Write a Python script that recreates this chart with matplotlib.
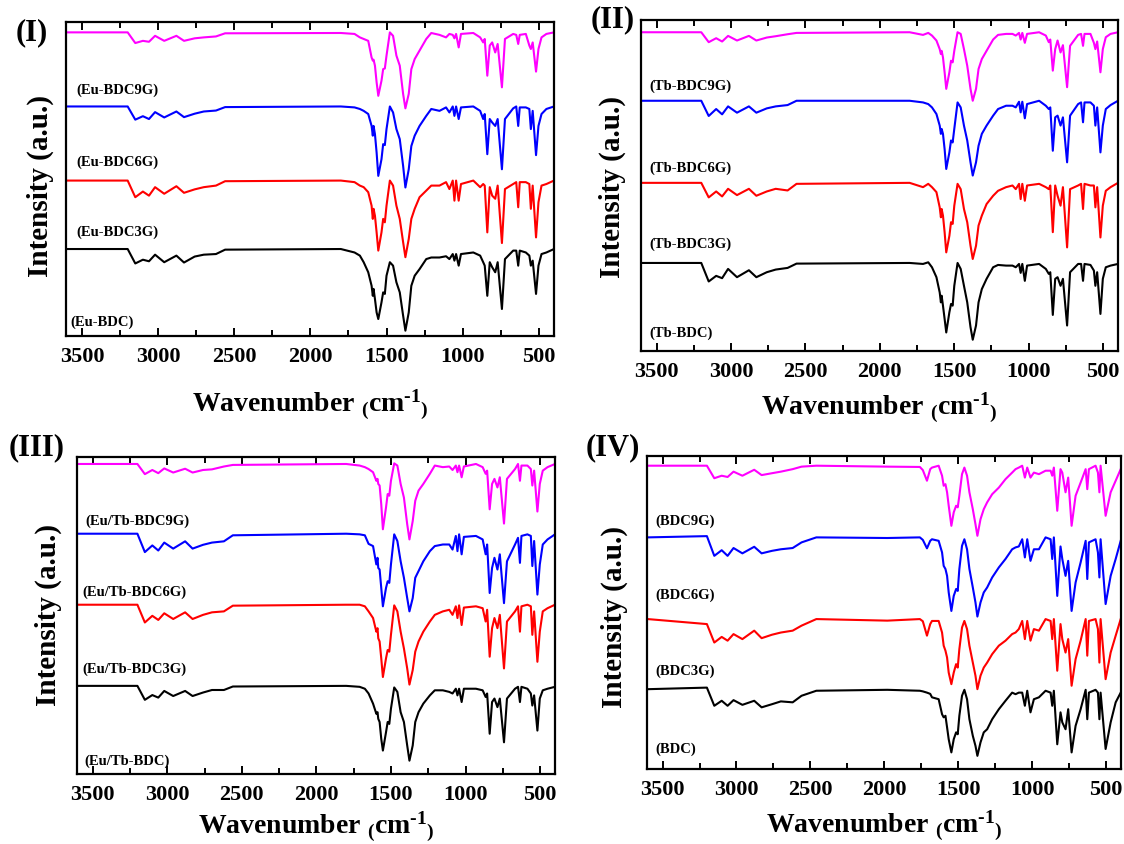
import matplotlib
matplotlib.use("Agg")
import matplotlib.pyplot as plt
from matplotlib.ticker import MultipleLocator

plt.rcParams['font.family'] = 'Liberation Serif'
plt.rcParams['font.weight'] = 'bold'
plt.rcParams['mathtext.fontset'] = 'custom'
plt.rcParams['mathtext.rm'] = 'Liberation Serif:bold'
plt.rcParams['mathtext.bf'] = 'Liberation Serif:bold'
plt.rcParams['mathtext.it'] = 'Liberation Serif:bold:italic'

# wavenumber points (cm-1) for the Eu, Tb and Eu/Tb spectra
wn_ln = [3600, 3200, 3150, 3100, 3060, 3020, 2960, 2880, 2830, 2760, 2700, 2620, 2560,
         1800, 1710, 1675, 1650, 1620, 1598, 1590, 1585, 1576, 1565,
         1554, 1533, 1522, 1511, 1500, 1478, 1457, 1435, 1413, 1391,
         1376, 1354, 1337, 1315, 1283, 1239, 1206, 1152, 1109, 1087,
         1065, 1054, 1043, 1026, 1011, 930, 885, 865, 855, 838,
         822, 806, 786, 770, 742, 722, 668, 648, 635, 625,
         585, 562, 552, 540, 518, 502, 482, 450, 400]

# wavenumber points (cm-1) for the free linker spectra
wn_bdc = [3600, 3200, 3150, 3100, 3060, 3020, 2960, 2880, 2830, 2760, 2700, 2620, 2560,
          2460, 1980, 1760, 1740,
          1712, 1690, 1678, 1633, 1610, 1599, 1587, 1576, 1565, 1547,
          1531, 1515, 1504, 1493, 1475, 1459, 1441, 1425, 1402, 1384,
          1371, 1350, 1328, 1305, 1271, 1226, 1181, 1136, 1113, 1091,
          1068, 1050, 1034, 1012, 989, 955, 910, 876, 865, 854,
          831, 809, 797, 775, 757, 734, 707, 673, 639, 628,
          617, 572, 556, 546, 538, 504, 470, 436, 402]

# (I) Eu series, stacked intensity (a.u.)
eu_bdc = [27.7, 27.7, 23.1, 24.3, 23.8, 25.9, 23.5, 25.6, 23.4, 25.3, 25.9, 26.1, 27.5,
          27.7, 26.6, 25.6, 23.5, 20.3, 16.0, 12.8, 15.0, 11.8, 7.5,
          5.4, 10.7, 13.9, 13.4, 19.2, 23.5, 22.4, 17.1, 13.9, 6.5,
          1.7, 7.5, 16.0, 19.2, 21.3, 24.5, 25.0, 25.0, 25.4, 24.5,
          26.1, 24.0, 26.1, 22.4, 26.1, 26.6, 25.6, 23.5, 22.4, 12.8,
          23.5, 21.9, 20.3, 23.5, 8.6, 24.5, 27.2, 27.2, 22.4, 27.2,
          26.6, 25.6, 22.4, 24.0, 13.4, 22.4, 26.1, 26.6, 27.7]
eu_bdc3g = [49.5, 49.5, 44.2, 46.0, 44.7, 47.4, 45.3, 47.7, 45.6, 46.7, 47.4, 47.9, 49.3,
            49.5, 49.0, 47.9, 47.4, 45.8, 41.5, 37.3, 40.5, 38.3, 33.0,
            27.2, 33.0, 37.3, 36.2, 41.5, 49.5, 47.9, 41.5, 37.3, 29.9,
            25.1, 30.9, 37.3, 40.5, 44.2, 46.3, 47.9, 47.9, 49.0, 46.8,
            49.5, 43.1, 49.5, 43.1, 48.4, 49.5, 47.4, 48.4, 47.9, 33.0,
            47.4, 44.7, 43.7, 47.9, 29.6, 46.8, 48.4, 49.0, 41.0, 49.0,
            49.0, 48.4, 40.5, 47.9, 31.4, 42.6, 47.9, 48.4, 49.5]
eu_bdc6g = [73.1, 73.1, 68.9, 70.0, 69.1, 71.3, 69.6, 71.5, 69.7, 70.8, 71.5, 71.8, 72.9,
            73.1, 72.8, 72.3, 71.7, 70.7, 66.9, 63.8, 66.9, 64.3, 58.4,
            51.0, 56.3, 61.1, 60.8, 65.9, 73.1, 71.2, 65.9, 62.7, 54.2,
            47.3, 53.1, 60.5, 63.8, 66.9, 70.1, 72.3, 71.7, 72.8, 71.2,
            73.1, 70.1, 73.1, 69.1, 72.8, 73.1, 71.7, 69.1, 70.7, 57.9,
            69.1, 68.0, 66.9, 69.1, 53.1, 69.1, 72.5, 73.1, 66.9, 72.8,
            72.8, 72.3, 65.9, 71.7, 57.6, 66.9, 70.7, 72.3, 73.1]
eu_bdc9g = [96.7, 96.7, 93.3, 94.0, 93.7, 95.6, 94.0, 95.6, 94.0, 94.8, 95.1, 95.4, 96.4,
            96.5, 96.2, 95.1, 94.6, 94.0, 88.7, 87.7, 88.0, 86.1, 80.8,
            76.5, 81.3, 85.0, 85.2, 89.3, 96.7, 95.6, 89.3, 86.1, 77.1,
            72.5, 77.1, 85.0, 88.2, 90.9, 94.6, 96.5, 95.9, 95.1, 96.2,
            95.9, 94.8, 96.2, 91.9, 96.2, 96.5, 95.1, 93.5, 94.6, 82.9,
            92.5, 93.5, 90.3, 93.0, 79.2, 94.6, 96.2, 95.9, 93.0, 95.9,
            96.2, 92.5, 91.4, 93.5, 84.2, 91.4, 95.1, 96.2, 96.7]

# (II) Tb series
tb_bdc = [26.6, 26.6, 21.0, 22.7, 22.0, 24.8, 22.3, 24.4, 22.3, 23.8, 24.6, 25.1, 26.4,
          26.6, 26.3, 26.8, 25.3, 22.3, 17.7, 14.7, 16.7, 13.7, 9.7,
          5.6, 11.7, 14.2, 13.7, 19.7, 26.6, 24.8, 19.7, 14.7, 7.2,
          3.4, 7.7, 14.7, 18.7, 21.8, 25.3, 26.0, 25.8, 25.8, 25.3,
          26.3, 23.6, 26.3, 21.2, 25.8, 26.3, 24.8, 23.3, 23.8, 10.9,
          21.8, 22.3, 19.7, 21.8, 7.7, 23.8, 26.3, 26.3, 21.2, 26.3,
          26.0, 24.3, 19.7, 23.8, 11.2, 21.8, 25.3, 25.8, 26.3]
tb_bdc3g = [50.8, 50.8, 46.4, 48.2, 46.7, 49.0, 47.1, 49.0, 46.9, 48.2, 49.0, 48.5, 50.5,
            50.8, 49.5, 50.5, 49.5, 48.0, 43.4, 40.4, 42.9, 40.9, 35.9,
            29.8, 34.8, 38.9, 38.4, 43.9, 50.5, 48.9, 42.9, 38.9, 31.8,
            27.8, 31.8, 37.9, 40.9, 44.4, 46.9, 48.4, 49.5, 50.0, 48.9,
            50.5, 45.9, 50.5, 45.4, 50.0, 50.5, 49.5, 48.9, 50.0, 35.9,
            50.0, 46.9, 43.9, 49.5, 31.3, 48.9, 50.0, 50.5, 42.9, 50.5,
            50.0, 50.0, 43.4, 49.5, 34.3, 43.9, 48.4, 49.5, 50.8]
tb_bdc6g = [75.6, 75.6, 71.0, 73.1, 71.5, 73.9, 72.0, 73.9, 72.0, 73.3, 73.9, 74.3, 75.6,
            75.6, 75.1, 74.6, 73.6, 71.6, 68.1, 65.6, 67.1, 65.6, 61.0,
            55.0, 60.0, 63.6, 63.0, 67.1, 75.1, 73.6, 68.1, 63.6, 57.0,
            53.0, 57.0, 62.0, 65.6, 68.1, 71.1, 73.1, 74.1, 74.1, 73.6,
            75.3, 72.1, 75.3, 70.3, 74.6, 75.6, 74.1, 73.1, 73.6, 60.5,
            70.6, 71.1, 68.1, 70.6, 57.0, 71.1, 74.6, 75.1, 69.1, 75.1,
            75.1, 74.1, 68.1, 73.6, 60.0, 68.1, 73.1, 74.3, 75.6]
tb_bdc9g = [96.3, 96.3, 93.3, 94.5, 93.5, 95.2, 93.8, 95.2, 93.8, 94.7, 95.1, 95.7, 96.1,
            96.3, 95.5, 96.1, 95.3, 93.8, 91.2, 89.7, 90.7, 88.7, 84.2,
            79.2, 84.2, 87.7, 87.2, 90.7, 96.3, 95.8, 91.2, 86.2, 79.2,
            75.6, 79.2, 85.2, 88.2, 90.7, 94.1, 95.5, 95.8, 95.8, 95.3,
            96.1, 94.1, 96.1, 93.1, 95.8, 96.3, 95.3, 93.3, 94.1, 84.7,
            91.2, 93.8, 90.2, 92.4, 79.7, 92.2, 95.5, 95.8, 92.2, 95.8,
            95.8, 93.1, 91.2, 93.5, 84.2, 91.2, 94.8, 95.8, 96.3]

# (III) mixed Eu/Tb series
eutb_bdc = [27.8, 27.8, 23.4, 24.9, 24.1, 26.2, 24.6, 26.2, 24.6, 25.7, 26.5, 26.5, 27.6,
            27.8, 27.5, 26.9, 25.4, 22.2, 19.0, 19.5, 17.4, 16.4, 11.1,
            7.4, 13.2, 16.4, 15.8, 20.6, 27.3, 25.9, 19.5, 16.4, 9.0,
            4.2, 9.0, 16.4, 19.5, 22.2, 24.8, 26.4, 26.4, 25.9, 25.4,
            26.9, 24.8, 26.9, 22.7, 26.9, 26.9, 26.4, 24.3, 25.4, 12.7,
            22.7, 23.8, 21.1, 23.8, 10.0, 23.8, 26.9, 27.5, 22.7, 27.5,
            26.9, 25.4, 21.6, 24.8, 13.7, 23.8, 26.4, 26.9, 27.5]
eutb_bdc3g = [53.4, 53.4, 47.8, 49.9, 48.6, 50.7, 48.9, 51.0, 48.9, 50.2, 51.0, 51.3, 53.1,
              53.4, 53.4, 52.9, 51.3, 49.2, 44.9, 46.0, 42.8, 41.8, 36.5,
              30.6, 36.5, 39.1, 38.6, 43.9, 53.2, 51.3, 44.9, 39.6, 33.3,
              28.2, 32.8, 38.6, 41.8, 44.9, 48.1, 50.2, 51.3, 51.8, 50.2,
              52.9, 49.2, 53.2, 47.0, 52.5, 52.9, 52.3, 48.1, 51.8, 37.0,
              46.0, 49.2, 46.0, 50.2, 33.3, 48.1, 51.3, 52.9, 44.9, 52.9,
              53.4, 52.9, 43.9, 51.3, 35.4, 44.9, 51.3, 52.3, 53.4]
eutb_bdc6g = [75.8, 75.8, 70.0, 72.1, 70.5, 73.0, 71.1, 73.4, 71.1, 72.3, 73.0, 73.4, 75.3,
              75.8, 75.6, 75.3, 72.6, 71.9, 66.1, 68.2, 65.0, 64.5, 58.7,
              52.9, 58.7, 60.8, 60.3, 66.1, 75.6, 73.5, 67.1, 61.9, 55.5,
              51.3, 55.5, 61.9, 64.0, 67.1, 70.3, 71.9, 72.4, 72.4, 70.8,
              75.1, 70.3, 75.6, 69.3, 74.8, 75.1, 74.0, 69.3, 72.4, 57.1,
              65.0, 68.2, 64.5, 69.3, 53.9, 67.1, 72.4, 74.5, 66.6, 75.1,
              75.6, 75.1, 65.6, 73.5, 56.6, 66.1, 72.4, 74.0, 75.6]
eutb_bdc9g = [97.8, 97.8, 94.6, 95.9, 94.9, 96.4, 95.1, 96.3, 95.1, 95.9, 96.1, 97.0, 97.5,
              97.8, 97.3, 96.8, 96.2, 95.2, 92.5, 93.1, 91.5, 91.0, 85.1,
              77.2, 84.1, 88.3, 87.8, 92.5, 98.0, 97.3, 91.5, 87.2, 78.8,
              74.0, 79.8, 86.2, 89.4, 91.5, 94.7, 97.3, 96.8, 97.0, 95.9,
              97.3, 95.2, 97.3, 93.6, 97.0, 97.8, 96.8, 94.7, 95.7, 83.5,
              91.5, 93.1, 90.4, 93.6, 79.0, 93.1, 96.2, 97.8, 92.5, 97.3,
              97.3, 96.2, 91.0, 95.7, 82.8, 91.5, 95.7, 96.8, 97.8]

# (IV) linker series
bdc = [25.5, 26.0, 20.2, 21.8, 20.2, 22.0, 20.5, 21.8, 19.7, 20.7, 21.6, 21.3, 23.4,
       25.0, 25.3, 25.0, 24.8,
       24.4, 24.0, 22.9, 22.3, 17.5, 16.5, 17.0, 13.3, 9.5, 5.3,
       9.5, 11.7, 11.1, 17.0, 23.4, 25.3, 22.3, 15.9, 10.6, 7.4,
       4.2, 8.5, 11.7, 12.7, 15.9, 19.1, 21.8, 24.4, 23.9, 24.4,
       24.4, 20.2, 25.0, 18.1, 22.3, 22.9, 25.0, 24.4, 20.2, 25.0,
       7.9, 18.1, 14.9, 12.7, 19.1, 5.3, 13.8, 19.1, 25.3, 15.9,
       24.4, 25.3, 24.4, 15.9, 24.4, 6.4, 14.9, 21.3, 24.4]
bdc3g = [47.9, 46.3, 40.4, 42.2, 41.0, 43.1, 41.5, 44.2, 41.8, 42.9, 43.6, 44.2, 45.8,
         47.9, 47.4, 47.9, 47.2,
         42.6, 46.3, 47.3, 47.3, 43.6, 39.4, 37.8, 35.6, 30.8, 27.1,
         30.8, 33.5, 32.4, 38.3, 45.2, 47.3, 44.7, 39.4, 34.0, 29.8,
         25.5, 29.8, 32.4, 34.0, 36.7, 39.4, 41.0, 43.1, 43.6, 44.7,
         47.3, 41.5, 47.3, 41.0, 44.7, 44.2, 47.9, 47.3, 41.5, 47.9,
         31.4, 46.3, 41.5, 37.2, 41.5, 26.6, 35.1, 41.0, 47.9, 36.2,
         47.3, 47.9, 44.7, 34.0, 47.9, 28.7, 37.2, 42.6, 47.9]
bdc6g = [74.0, 74.4, 68.1, 69.9, 68.1, 70.6, 68.9, 71.0, 68.9, 69.7, 70.2, 70.6, 72.4,
         74.0, 73.8, 74.0, 73.2,
         70.5, 72.9, 73.4, 72.9, 69.2, 64.9, 63.9, 61.7, 56.4, 50.5,
         55.3, 57.5, 56.9, 63.9, 71.3, 73.4, 70.2, 63.9, 58.0, 53.2,
         48.7, 53.2, 56.4, 58.0, 61.2, 64.4, 67.1, 70.2, 70.8, 71.1,
         73.4, 67.6, 73.4, 66.5, 70.2, 70.2, 74.0, 73.4, 67.1, 74.0,
         55.3, 71.1, 67.1, 61.7, 66.5, 50.5, 59.6, 66.0, 72.9, 60.7,
         72.4, 73.4, 69.2, 61.2, 73.4, 52.7, 61.7, 67.1, 72.9]
bdc9g = [96.9, 96.9, 92.9, 93.7, 93.3, 95.0, 93.7, 95.6, 93.9, 94.5, 95.0, 95.8, 96.6,
         96.9, 96.6, 96.5, 95.5,
         92.1, 95.8, 96.3, 96.9, 93.7, 90.5, 91.0, 88.4, 84.1, 77.7,
         82.0, 84.1, 83.6, 87.3, 94.2, 96.3, 93.7, 88.4, 83.0, 78.2,
         74.5, 79.8, 83.0, 85.2, 87.8, 89.9, 92.6, 94.7, 95.8, 96.3,
         96.9, 93.1, 96.3, 93.1, 94.7, 94.2, 95.3, 95.3, 93.7, 96.3,
         82.5, 95.8, 94.7, 88.4, 93.1, 77.7, 87.3, 91.5, 95.8, 89.4,
         95.8, 96.9, 94.7, 88.4, 96.9, 80.9, 88.4, 92.1, 95.8]

names_I = ['(Eu-BDC)', '(Eu-BDC3G)', '(Eu-BDC6G)', '(Eu-BDC9G)']
names_II = ['(Tb-BDC)', '(Tb-BDC3G)', '(Tb-BDC6G)', '(Tb-BDC9G)']
names_III = ['(Eu/Tb-BDC)', '(Eu/Tb-BDC3G)', '(Eu/Tb-BDC6G)', '(Eu/Tb-BDC9G)']
names_IV = ['(BDC)', '(BDC3G)', '(BDC6G)', '(BDC9G)']

colors = ['#000000', '#ff0000', '#0000ff', '#ff00ff']

W, H = 1124, 845
fig = plt.figure(figsize=(W / 100, H / 100), dpi=100)


def add_axes_px(left, top, right, bottom):
    return fig.add_axes([left / W, 1 - bottom / H, (right - left) / W, (bottom - top) / H])


def draw_panel(ax, wn, traces, names, name_pos, ylab_pos, xlab_y):
    for vals, col in zip(traces, colors):
        ax.plot(wn, vals, color=col, lw=1.5)
    for name, (x, y) in zip(names, name_pos):
        ax.text(x, y, name, fontsize=10.5, fontweight='bold', ha='left', va='center')

    ax.set_xlim(3605, 400)
    ax.set_ylim(0, 100)
    ax.set_yticks([])
    ax.xaxis.set_major_locator(MultipleLocator(500))
    ax.xaxis.set_minor_locator(MultipleLocator(250))
    ax.tick_params(axis='x', which='both', direction='in', top=True, width=1.4)
    ax.tick_params(axis='x', which='major', length=6, pad=7, labelsize=16)
    ax.tick_params(axis='x', which='minor', length=4)
    for lab in ax.get_xticklabels():
        lab.set_fontweight('bold')
    for sp in ax.spines.values():
        sp.set_linewidth(1.6)

    ax.text(ylab_pos[0], ylab_pos[1], 'Intensity (a.u.)', transform=ax.transAxes,
            rotation=90, ha='center', va='center', fontsize=21, fontweight='bold')
    ax.text(0.5, xlab_y, r'Wavenumber ${}_{(}$cm$^{\text{-}1}{}_{)}$', transform=ax.transAxes,
            ha='center', va='center', fontsize=20, fontweight='bold')


ax1 = add_axes_px(66, 23, 554, 337)
draw_panel(ax1, wn_ln, [eu_bdc, eu_bdc3g, eu_bdc6g, eu_bdc9g], names_I,
           [(3577, 4.7), (3537, 33.3), (3537, 55.5), (3537, 78.7)],
           (-0.053, 0.48), -0.215)

ax2 = add_axes_px(641, 21, 1118, 352)
draw_panel(ax2, wn_ln, [tb_bdc, tb_bdc3g, tb_bdc6g, tb_bdc9g], names_II,
           [(3549, 5.6), (3549, 32.6), (3549, 55.4), (3549, 80.2)],
           (-0.061, 0.50), -0.17)

ax3 = add_axes_px(77, 458, 555, 775)
draw_panel(ax3, wn_ln, [eutb_bdc, eutb_bdc3g, eutb_bdc6g, eutb_bdc9g], names_III,
           [(3555, 4.2), (3572, 33.4), (3572, 57.8), (3548, 79.9)],
           (-0.061, 0.505), -0.163)

ax4 = add_axes_px(647, 457, 1121, 770)
draw_panel(ax4, wn_bdc, [bdc, bdc3g, bdc6g, bdc9g], names_IV,
           [(3549, 6.7), (3549, 31.5), (3549, 55.7), (3549, 79.4)],
           (-0.068, 0.49), -0.178)

for tag, (x, y) in zip(['(I)', '(II)', '(III)', '(IV)'],
                       [(32, 33), (613, 20), (37, 448), (613, 448)]):
    fig.text(x / W, 1 - y / H, tag, fontsize=22, fontweight='bold', ha='center', va='center')

fig.savefig('out.png', dpi=100)
